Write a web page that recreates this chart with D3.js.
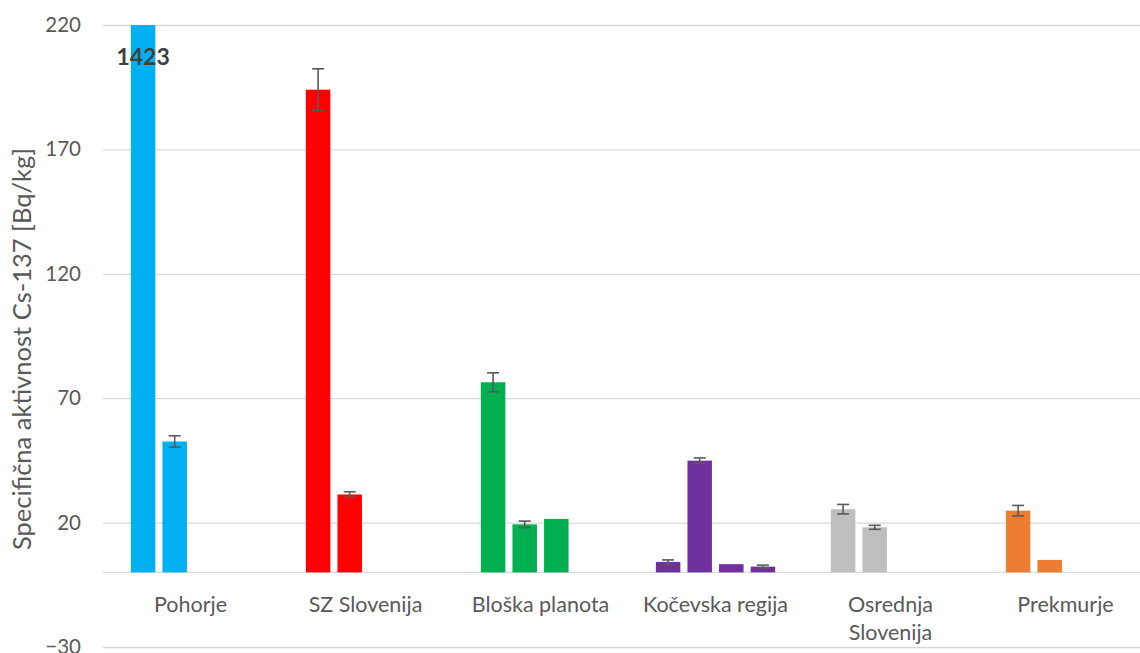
<!DOCTYPE html>
<html>
<head>
<meta charset="utf-8">
<script src="https://cdn.jsdelivr.net/npm/d3@7"></script>
<style>
  html, body { margin: 0; padding: 0; background: #ffffff; }
  svg { display: block; }
  text { font-family: Lato, "Open Sans", sans-serif; fill: #595959; }
</style>
</head>
<body>
<svg id="chart" width="1140" height="653"></svg>
<script>
// Regions (categories) and their bar colours
const categories = ["Pohorje", "SZ Slovenija", "Bloška planota", "Kočevska regija", "Osrednja Slovenija", "Prekmurje"];
const categoryLines = [["Pohorje"], ["SZ Slovenija"], ["Bloška planota"], ["Kočevska regija"], ["Osrednja", "Slovenija"], ["Prekmurje"]];
const colors = ["#00B0F0", "#FF0000", "#00B050", "#7030A0", "#BFBFBF", "#ED7D31"];

// Specific activity of Cs-137 [Bq/kg], up to four samples per region
const sample1 = [1423, 194.0, 76.4, 4.2, 25.4, 24.8];
const sample2 = [52.6, 31.3, 19.3, 44.9, 18.1, 5.0];
const sample3 = [null, null, 21.5, 3.3, null, null];
const sample4 = [null, null, null, 2.3, null, null];

// Measurement uncertainty (±)
const error1 = [null, 8.4, 3.8, 0.8, 1.9, 2.1];
const error2 = [2.3, 1.1, 1.3, 1.1, 0.8, null];
const error3 = [null, null, null, null, null, null];
const error4 = [null, null, null, 0.6, null, null];

// Value axis ticks
const yTicks = [-30, 20, 70, 120, 170, 220];
const yTitle = "Specifična aktivnost Cs-137 [Bq/kg]";

const samples = [sample1, sample2, sample3, sample4];
const errors = [error1, error2, error3, error4];

const bars = [];
categories.forEach((c, i) => {
  samples.forEach((s, j) => {
    if (s[i] != null) bars.push({ cat: c, idx: j, value: s[i], err: errors[j][i], color: colors[i] });
  });
});

const svg = d3.select("#chart");
const plotL = 103, plotR = 1153, plotT = 25, plotB = 647;

const y = d3.scaleLinear().domain([-30, 220]).range([plotB, plotT]);
const x = d3.scaleBand().domain(categories).range([plotL, plotR]).padding(0);
const groupW = 119.3;
const xs = d3.scaleBand().domain([0, 1, 2, 3])
  .range([x.bandwidth() / 2 - groupW / 2, x.bandwidth() / 2 + groupW / 2])
  .paddingInner(0.225).paddingOuter(0);

// Gridlines and tick labels
const yAxis = d3.axisLeft(y).tickValues(yTicks).tickSize(-(plotR - plotL)).tickPadding(22);
const gy = svg.append("g").attr("transform", `translate(${plotL},0)`).call(yAxis);
gy.select(".domain").remove();
gy.selectAll(".tick line").attr("stroke", "#d9d9d9").attr("stroke-width", 1.3);
gy.selectAll(".tick text").attr("font-size", 20.5).attr("fill", "#595959")
  .style("font-family", "Lato, 'Open Sans', sans-serif");

// Zero baseline
svg.append("line")
  .attr("x1", plotL).attr("x2", plotR)
  .attr("y1", y(0)).attr("y2", y(0))
  .attr("stroke", "#d9d9d9").attr("stroke-width", 1.3);

// Clip bars to the plot area
svg.append("defs").append("clipPath").attr("id", "plotClip")
  .append("rect").attr("x", plotL).attr("y", plotT).attr("width", plotR - plotL).attr("height", plotB - plotT);

const plot = svg.append("g").attr("clip-path", "url(#plotClip)");

plot.selectAll("rect.bar").data(bars).join("rect")
  .attr("class", "bar")
  .attr("x", d => x(d.cat) + xs(d.idx))
  .attr("width", xs.bandwidth())
  .attr("y", d => y(d.value))
  .attr("height", d => y(0) - y(d.value))
  .attr("fill", d => d.color);

// Error bars
const eb = plot.selectAll("g.err").data(bars.filter(d => d.err != null)).join("g").attr("class", "err")
  .attr("stroke", "#595959").attr("stroke-width", 1.6);
eb.append("line")
  .attr("x1", d => x(d.cat) + xs(d.idx) + xs.bandwidth() / 2)
  .attr("x2", d => x(d.cat) + xs(d.idx) + xs.bandwidth() / 2)
  .attr("y1", d => y(d.value + d.err)).attr("y2", d => y(d.value - d.err));
[1, -1].forEach(sgn => {
  eb.append("line")
    .attr("x1", d => x(d.cat) + xs(d.idx) + xs.bandwidth() / 2 - 6)
    .attr("x2", d => x(d.cat) + xs(d.idx) + xs.bandwidth() / 2 + 6)
    .attr("y1", d => y(d.value + sgn * d.err)).attr("y2", d => y(d.value + sgn * d.err));
});

// Value label for the bar that runs off the scale
const off = bars.filter(d => d.value > 220);
svg.selectAll("text.big").data(off).join("text")
  .attr("class", "big")
  .attr("x", d => x(d.cat) + xs(d.idx) + xs.bandwidth() / 2)
  .attr("y", 65)
  .attr("text-anchor", "middle")
  .attr("font-size", 23).attr("font-weight", "bold")
  .style("fill", "#404040")
  .text(d => d.value);

// Category labels
const cl = svg.selectAll("text.cat").data(categories).join("text")
  .attr("class", "cat")
  .attr("text-anchor", "middle")
  .attr("font-size", 21.5)
  .attr("x", d => x(d) + x.bandwidth() / 2)
  .attr("y", 612);
cl.selectAll("tspan").data((d, i) => categoryLines[i]).join("tspan")
  .attr("x", function() { return d3.select(this.parentNode).attr("x"); })
  .attr("dy", (d, i) => i === 0 ? 0 : 28)
  .text(d => d);

// Value axis title
svg.append("text")
  .attr("transform", `translate(31,349) rotate(-90)`)
  .attr("text-anchor", "middle")
  .attr("font-size", 25.5)
  .text(yTitle);
</script>
</body>
</html>
